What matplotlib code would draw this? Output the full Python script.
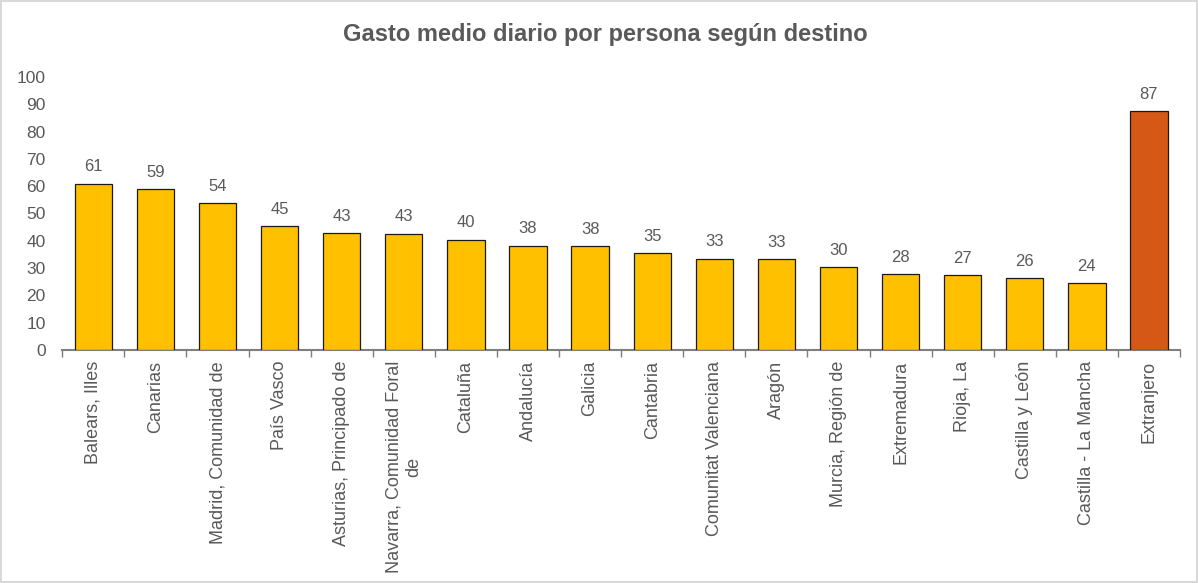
import numpy as np
import matplotlib.pyplot as plt
from matplotlib.ticker import FixedLocator

plt.rcParams['font.family'] = ['Liberation Sans', 'DejaVu Sans']

destinos = ['Balears, Illes', 'Canarias', 'Madrid, Comunidad de', 'País Vasco',
            'Asturias, Principado de', 'Navarra, Comunidad Foral\nde', 'Cataluña',
            'Andalucía', 'Galicia', 'Cantabria', 'Comunitat Valenciana', 'Aragón',
            'Murcia, Región de', 'Extremadura', 'Rioja, La', 'Castilla y León',
            'Castilla - La Mancha', 'Extranjero']
gasto = [60.8, 58.9, 53.7, 45.4, 42.7, 42.6, 40.3, 38.1, 37.9, 35.4, 33.4, 33.1,
         30.3, 27.7, 27.4, 26.3, 24.4, 87.4]
colores = ['#FFC000'] * 17 + ['#D55817']

grey = '#595959'

fig = plt.figure(figsize=(11.98, 5.83), dpi=100)
fig.patch.set_edgecolor('#d9d9d9')
fig.patch.set_linewidth(1.5)
ax = fig.add_axes([0.052, 0.400, 0.933, 0.468])

x = np.arange(len(destinos))
ax.bar(x, gasto, width=0.6, color=colores, edgecolor='#1a1a1a', linewidth=0.9, zorder=3)

for xi, v in zip(x, gasto):
    ax.text(xi, v + 6.2, f'{v:.0f}', ha='center', va='center', fontsize=12, color=grey)

ax.set_xlim(-0.5, len(destinos) - 0.5)
ax.set_ylim(0, 100)
ax.set_yticks(range(0, 101, 10))
ax.tick_params(axis='y', length=0, labelsize=12.5, labelcolor=grey, pad=12)

ax.set_xticks(x)
ax.set_xticklabels(destinos, rotation=90, fontsize=13, color=grey)
ax.tick_params(axis='x', which='major', length=0, pad=8)
ax.xaxis.set_minor_locator(FixedLocator(np.arange(-0.5, len(destinos), 1)))
ax.tick_params(axis='x', which='minor', length=5, width=1, color='#7f7f7f', direction='out')

for s in ['top', 'right', 'left']:
    ax.spines[s].set_visible(False)
ax.spines['bottom'].set_color('#7f7f7f')
ax.spines['bottom'].set_linewidth(1.5)

fig.text(0.505, 0.940, 'Gasto medio diario por persona según destino', ha='center', va='center',
         fontsize=17, fontweight='bold', color=grey)

fig.savefig('out.png', dpi=100, edgecolor=fig.get_edgecolor())
